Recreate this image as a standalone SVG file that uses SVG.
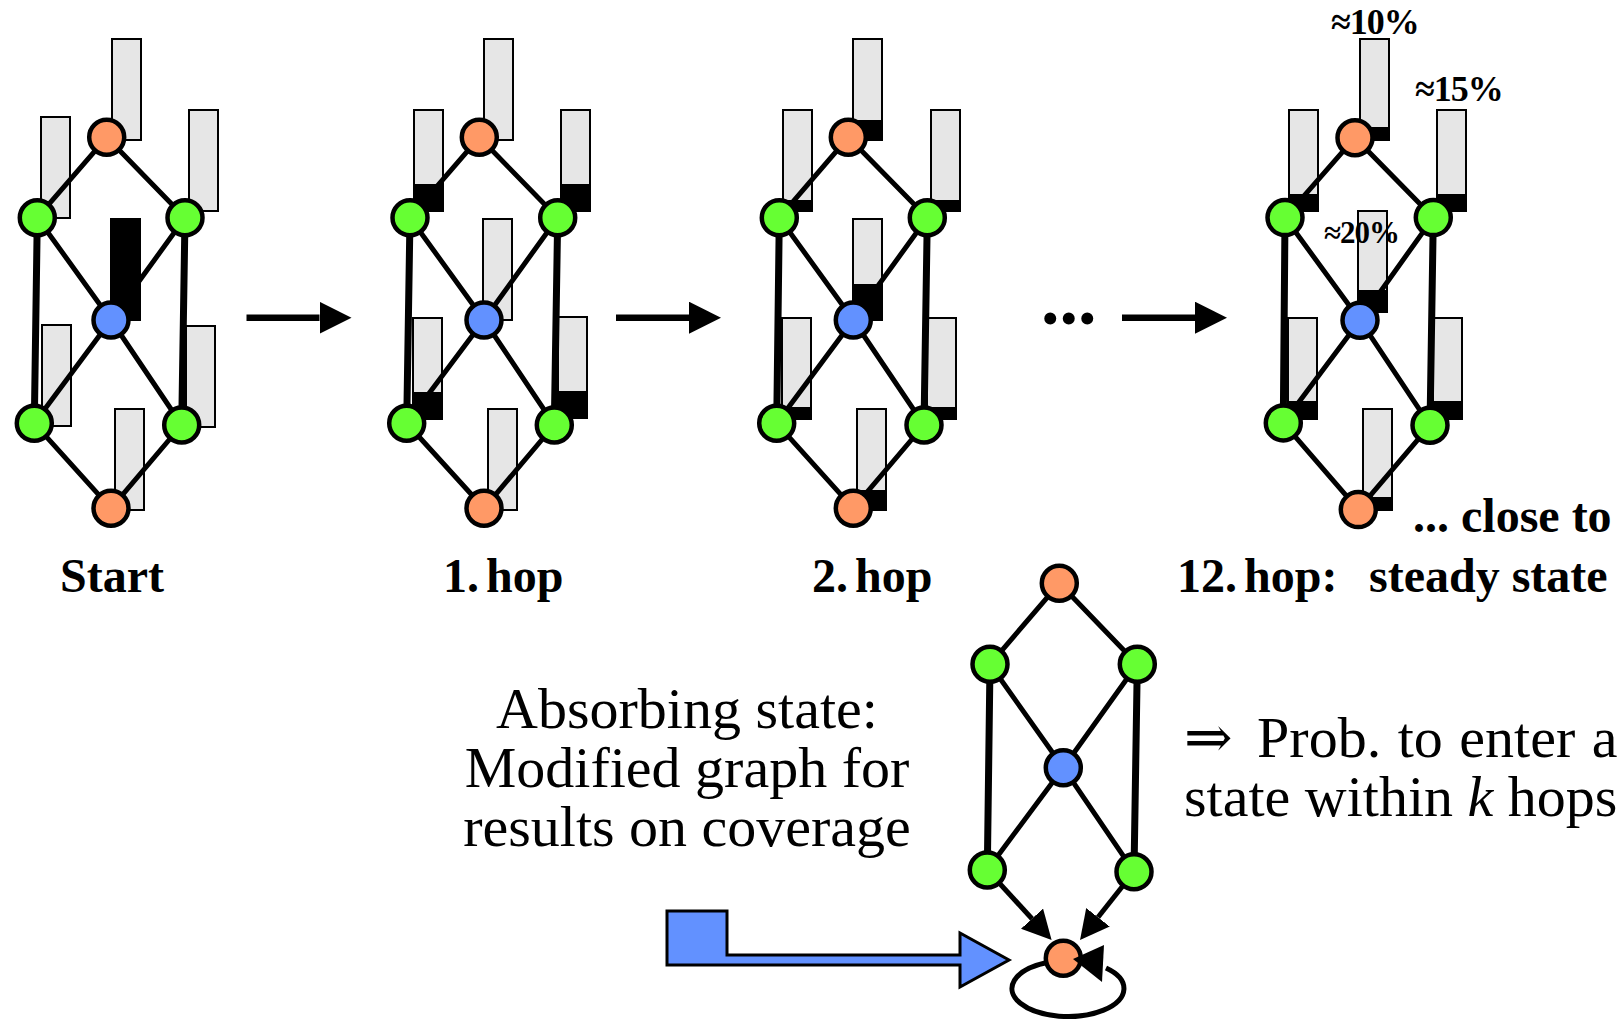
<svg xmlns="http://www.w3.org/2000/svg" width="1623" height="1020" viewBox="0 0 1623 1020">
  <style>
    .bar { fill: #e6e6e6; stroke: #000; stroke-width: 2; }
    .mass { fill: #000; stroke: #000; stroke-width: 2; }
    .e { fill: none; stroke: #000; stroke-width: 5; }
    .v { fill: none; stroke: #000; stroke-width: 7; }
    .o { fill: #ff9966; stroke: #000; stroke-width: 4.5; }
    .g { fill: #66ff33; stroke: #000; stroke-width: 4.5; }
    .b { fill: #6291ff; stroke: #000; stroke-width: 4.5; }
    .hop { fill: none; stroke: #000; stroke-width: 6.5; }
    .lb { font-family: "Liberation Serif", "Times New Roman", serif; font-weight: bold; font-size: 48px; fill: #000; }
    .pc { font-family: "Liberation Serif", "DejaVu Serif", serif; font-weight: bold; font-size: 36px; letter-spacing: -1px; fill: #000; }
    .tx { font-family: "Liberation Serif", "DejaVu Serif", serif; font-size: 58px; fill: #000; }
  </style>
  <defs>
    <marker id="bigHead" markerUnits="userSpaceOnUse" markerWidth="32" markerHeight="32" viewBox="0 0 32 32" refX="0" refY="16" orient="auto">
      <path d="M0,0L32,16L0,32z" fill="#000"/>
    </marker>
    <marker id="smallHead" markerUnits="userSpaceOnUse" markerWidth="30" markerHeight="30" viewBox="0 0 30 30" refX="0" refY="15" orient="auto">
      <path d="M0,0L29,15L0,30z" fill="#000"/>
    </marker>
  </defs>

  <rect width="1623" height="1020" fill="#fff"/>

  <!-- probability bars: gray = capacity, black = probability mass -->
  <g id="bars-start">
    <rect class="bar" x="112" y="39" width="29" height="101"/>
    <rect class="bar" x="41" y="117" width="29" height="101"/>
    <rect class="bar" x="189" y="110" width="29" height="101"/>
    <rect class="mass" x="111" y="219" width="29" height="101"/>
    <rect class="bar" x="42" y="325" width="29" height="101"/>
    <rect class="bar" x="186" y="326" width="29" height="101"/>
    <rect class="bar" x="115" y="409" width="29" height="101"/>
  </g>
  <g id="bars-hop1">
    <rect class="bar" x="484" y="39" width="29" height="101"/>
    <rect class="bar" x="414" y="110" width="29" height="101"/>
    <rect class="mass" x="414" y="185" width="29" height="26"/>
    <rect class="bar" x="561" y="110" width="29" height="101"/>
    <rect class="mass" x="561" y="185" width="29" height="26"/>
    <rect class="bar" x="483" y="219" width="29" height="101"/>
    <rect class="bar" x="413" y="318" width="29" height="101"/>
    <rect class="mass" x="413" y="393" width="29" height="26"/>
    <rect class="bar" x="558" y="317" width="29" height="101"/>
    <rect class="mass" x="558" y="392" width="29" height="26"/>
    <rect class="bar" x="488" y="409" width="29" height="101"/>
  </g>
  <g id="bars-hop2">
    <rect class="bar" x="853" y="39" width="29" height="101"/>
    <rect class="mass" x="853" y="121" width="29" height="19"/>
    <rect class="bar" x="783" y="110" width="29" height="101"/>
    <rect class="mass" x="783" y="201" width="29" height="10"/>
    <rect class="bar" x="931" y="110" width="29" height="101"/>
    <rect class="mass" x="931" y="201" width="29" height="10"/>
    <rect class="bar" x="853" y="219" width="29" height="101"/>
    <rect class="mass" x="853" y="285" width="29" height="35"/>
    <rect class="bar" x="782" y="318" width="29" height="101"/>
    <rect class="mass" x="782" y="408" width="29" height="11"/>
    <rect class="bar" x="927" y="318" width="29" height="101"/>
    <rect class="mass" x="927" y="408" width="29" height="11"/>
    <rect class="bar" x="857" y="409" width="29" height="101"/>
    <rect class="mass" x="857" y="491" width="29" height="19"/>
  </g>
  <g id="bars-hop12">
    <rect class="bar" x="1360" y="39" width="29" height="101"/>
    <rect class="mass" x="1360" y="128" width="29" height="12"/>
    <rect class="bar" x="1289" y="110" width="29" height="101"/>
    <rect class="mass" x="1289" y="195" width="29" height="16"/>
    <rect class="bar" x="1437" y="110" width="29" height="101"/>
    <rect class="mass" x="1437" y="195" width="29" height="16"/>
    <rect class="bar" x="1358" y="211" width="29" height="101"/>
    <rect class="mass" x="1358" y="291" width="29" height="21"/>
    <rect class="bar" x="1288" y="318" width="29" height="101"/>
    <rect class="mass" x="1288" y="402" width="29" height="17"/>
    <rect class="bar" x="1433" y="318" width="29" height="101"/>
    <rect class="mass" x="1433" y="402" width="29" height="17"/>
    <rect class="bar" x="1363" y="409" width="29" height="101"/>
    <rect class="mass" x="1363" y="498" width="29" height="11"/>
  </g>

  <!-- absorbing node sits under its self-loop arrowhead -->
  <g id="abs-b"><circle class="o" cx="1063.3" cy="958.3" r="17.5"/></g>

  <g id="connectors">
    <!-- start -->
    <path class="e" d="M106.7,137.3L37.3,217.7M106.7,137.3L185,217.7M37.3,217.7L111,320M185,217.7L111,320M111,320L34.3,423.3M111,320L181.7,425M34.3,423.3L111,508.3M181.7,425L111,508.3"/>
    <path class="v" d="M37.3,217.7L34.3,423.3M185,217.7L181.7,425"/>
    <!-- hop 1 -->
    <path class="e" d="M479.3,137.3L410,217.7M479.3,137.3L557.7,217.7M410,217.7L484,320M557.7,217.7L484,320M484,320L406.7,423.3M484,320L554.3,425M406.7,423.3L484,508.3M554.3,425L484,508.3"/>
    <path class="v" d="M410,217.7L406.7,423.3M557.7,217.7L554.3,425"/>
    <!-- hop 2 -->
    <path class="e" d="M848.3,137.3L779.3,217.7M848.3,137.3L927.3,217.7M779.3,217.7L853.3,320M927.3,217.7L853.3,320M853.3,320L776.7,423.3M853.3,320L924,425M776.7,423.3L853.3,508.3M924,425L853.3,508.3"/>
    <path class="v" d="M779.3,217.7L776.7,423.3M927.3,217.7L924,425"/>
    <!-- hop 12 -->
    <path class="e" d="M1355,137.7L1285,217.6M1355,137.7L1433.3,217.6M1285,217.6L1360,320.2M1433.3,217.6L1360,320.2M1360,320.2L1283.3,422.9M1360,320.2L1430,425.3M1283.3,422.9L1358.3,509.6M1430,425.3L1358.3,509.6"/>
    <path class="v" d="M1285,217.6L1283.3,422.9M1433.3,217.6L1430,425.3"/>
    <!-- absorbing graph -->
    <path class="e" d="M1059.3,583.3L990,664.3M1059.3,583.3L1137.3,664.3M990,664.3L1063.3,767.7M1137.3,664.3L1063.3,767.7M1063.3,767.7L987.3,870M1063.3,767.7L1134,871.7"/>
    <path class="v" d="M990,664.3L987.3,870M1137.3,664.3L1134,871.7"/>
    <line class="e" x1="987.3" y1="870" x2="1032" y2="918.7" marker-end="url(#smallHead)"/>
    <line class="e" x1="1134" y1="871.7" x2="1098" y2="917.3" marker-end="url(#smallHead)"/>
    <path class="e" d="M1045,963A56,28 0 1,0 1106,968"/>
    <polygon points="1073,959 1104,945 1102,982" fill="#000"/>
    <!-- hop arrows -->
    <line class="hop" x1="246.5" y1="317.7" x2="319.5" y2="317.7" marker-end="url(#bigHead)"/>
    <line class="hop" x1="616" y1="317.7" x2="689" y2="317.7" marker-end="url(#bigHead)"/>
    <line class="hop" x1="1122" y1="317.7" x2="1195" y2="317.7" marker-end="url(#bigHead)"/>
    <!-- block arrow into the absorbing state -->
    <polygon points="667,911 727,911 727,955 960,955 960,933 1009,960 960,987 960,965 667,965" fill="#6291ff" stroke="#000" stroke-width="3" stroke-linejoin="miter"/>
  </g>

  <!-- nodes: start -->
  <g id="s-t"><circle class="o" cx="106.7" cy="137.3" r="17.5"/></g>
  <g id="s-ul"><circle class="g" cx="37.3" cy="217.7" r="17.5"/></g>
  <g id="s-ur"><circle class="g" cx="185" cy="217.7" r="17.5"/></g>
  <g id="s-c"><circle class="b" cx="111" cy="320" r="17.5"/></g>
  <g id="s-ll"><circle class="g" cx="34.3" cy="423.3" r="17.5"/></g>
  <g id="s-lr"><circle class="g" cx="181.7" cy="425" r="17.5"/></g>
  <g id="s-b"><circle class="o" cx="111" cy="508.3" r="17.5"/></g>
  <!-- nodes: hop 1 -->
  <g id="h1-t"><circle class="o" cx="479.3" cy="137.3" r="17.5"/></g>
  <g id="h1-ul"><circle class="g" cx="410" cy="217.7" r="17.5"/></g>
  <g id="h1-ur"><circle class="g" cx="557.7" cy="217.7" r="17.5"/></g>
  <g id="h1-c"><circle class="b" cx="484" cy="320" r="17.5"/></g>
  <g id="h1-ll"><circle class="g" cx="406.7" cy="423.3" r="17.5"/></g>
  <g id="h1-lr"><circle class="g" cx="554.3" cy="425" r="17.5"/></g>
  <g id="h1-b"><circle class="o" cx="484" cy="508.3" r="17.5"/></g>
  <!-- nodes: hop 2 -->
  <g id="h2-t"><circle class="o" cx="848.3" cy="137.3" r="17.5"/></g>
  <g id="h2-ul"><circle class="g" cx="779.3" cy="217.7" r="17.5"/></g>
  <g id="h2-ur"><circle class="g" cx="927.3" cy="217.7" r="17.5"/></g>
  <g id="h2-c"><circle class="b" cx="853.3" cy="320" r="17.5"/></g>
  <g id="h2-ll"><circle class="g" cx="776.7" cy="423.3" r="17.5"/></g>
  <g id="h2-lr"><circle class="g" cx="924" cy="425" r="17.5"/></g>
  <g id="h2-b"><circle class="o" cx="853.3" cy="508.3" r="17.5"/></g>
  <!-- nodes: hop 12 -->
  <g id="h12-t"><circle class="o" cx="1355" cy="137.7" r="17.5"/></g>
  <g id="h12-ul"><circle class="g" cx="1285" cy="217.6" r="17.5"/></g>
  <g id="h12-ur"><circle class="g" cx="1433.3" cy="217.6" r="17.5"/></g>
  <g id="h12-c"><circle class="b" cx="1360" cy="320.2" r="17.5"/></g>
  <g id="h12-ll"><circle class="g" cx="1283.3" cy="422.9" r="17.5"/></g>
  <g id="h12-lr"><circle class="g" cx="1430" cy="425.3" r="17.5"/></g>
  <g id="h12-b"><circle class="o" cx="1358.3" cy="509.6" r="17.5"/></g>
  <!-- nodes: absorbing graph -->
  <g id="abs-t"><circle class="o" cx="1059.3" cy="583.3" r="17.5"/></g>
  <g id="abs-ul"><circle class="g" cx="990" cy="664.3" r="17.5"/></g>
  <g id="abs-ur"><circle class="g" cx="1137.3" cy="664.3" r="17.5"/></g>
  <g id="abs-c"><circle class="b" cx="1063.3" cy="767.7" r="17.5"/></g>
  <g id="abs-ll"><circle class="g" cx="987.3" cy="870" r="17.5"/></g>
  <g id="abs-lr"><circle class="g" cx="1134" cy="871.7" r="17.5"/></g>

  <!-- labels -->
  <g id="labels">
    <text class="pc" x="1331" y="34">≈10%</text>
    <text class="pc" x="1415" y="101">≈15%</text>
    <text class="pc" x="1324" y="243" style="font-size:31px">≈20%</text>
    <text class="lb" x="1041" y="324" style="font-size:74px">...</text>
    <text class="lb" x="1413" y="532">... close to</text>
    <text class="lb" x="60" y="592">Start</text>
    <text class="lb" x="443" y="592" word-spacing="-5">1. hop</text>
    <text class="lb" x="812" y="592" word-spacing="-5">2. hop</text>
    <text class="lb" x="1177" y="592" word-spacing="-5">12. hop:</text>
    <text class="lb" x="1369" y="592">steady state</text>
    <text class="tx" x="687" y="728" text-anchor="middle">Absorbing state:</text>
    <text class="tx" x="687" y="787" text-anchor="middle">Modified graph for</text>
    <text class="tx" x="687" y="846" text-anchor="middle">results on coverage</text>
    <text class="tx" x="1184" y="757" word-spacing="2">⇒<tspan dx="8"> Prob. to enter a</tspan></text>
    <text class="tx" x="1184" y="816">state within <tspan font-style="italic">k</tspan> hops</text>
  </g>
</svg>
